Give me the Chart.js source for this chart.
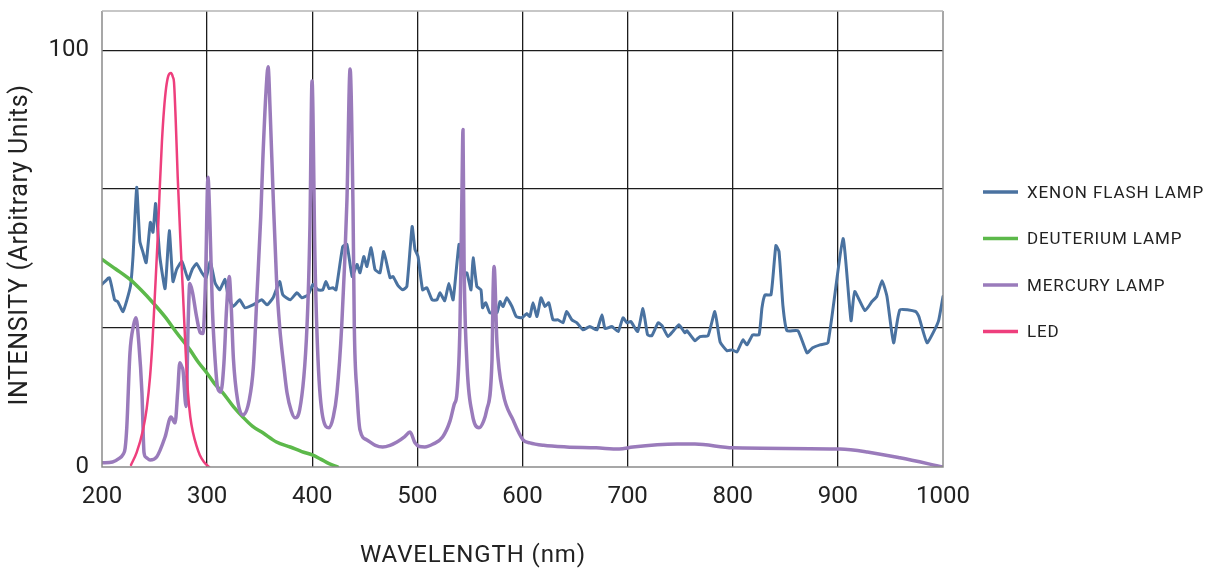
<!DOCTYPE html>
<html>
<head>
<meta charset="utf-8">
<script src="https://cdn.jsdelivr.net/npm/chart.js@4.4.1/dist/chart.umd.min.js"></script>
<style>
  html, body { margin: 0; padding: 0; background: #fff; }
  #wrap { position: relative; width: 1207px; height: 569px; }
</style>
</head>
<body>
<div id="wrap"><canvas id="chart" width="1207" height="569"></canvas></div>
<script>
// wavelength (nm) / intensity pairs
const seriesNames = ["XENON FLASH LAMP", "DEUTERIUM LAMP", "MERCURY LAMP", "LED"];
const seriesColors = ["#4a72a0", "#5cb94a", "#9a7bbb", "#ee3f7d"];

const xenonNm = [200,207,212,215,220,227,229.5,233,236,239,242,246,248.5,251,255,260,264,267.5,271,276,282,286,290,295,299,303,307.5,312,317,320,324.6,331,336,343.6,352,357,362.7,369,372,379,385.5,390,396,400.7,405.5,410,413,416,419.7,422.6,429,433,438,442.6,445.4,449,452,456,459.7,464.4,468,474,476.8,481.6,486,490,495,497.7,500.6,505,509,514,518.6,521.5,526,530,534,539.6,543,547,551,553,556.6,560.5,562,565,569,575.7,578.6,581.5,585,590,594,599.5,604,607,610,613.8,617.6,621.4,625,629,633.8,638.5,642,647,651.8,657.5,664,670.8,675.6,678.5,685,691,695.6,699.4,703,709.6,714.6,719,723,729,732.7,738.4,743,748.8,754.5,756.4,764,768.8,776.5,783,788,794.5,799.3,804,809.7,813.5,819,825,827.8,830.7,836.4,841,844,847.8,851.6,862,870.6,876,883,890.6,904.9,912.5,916,925.8,932.4,937,942,946.7,953,959,974,977,984.8,992,996,1000];
const xenonVal = [43.8,45.4,40.1,39.7,37.3,43.3,50.5,67.1,54.1,51.5,49,58.7,56.3,63.2,50.5,42.8,56.7,44.5,47.4,49.3,45,47.5,48.8,46.6,45.4,49.3,44.2,42.5,45,40.9,38.5,40.1,38.2,38.9,40.1,38.9,40.6,44.5,41.3,40.1,41.8,40.6,41.3,43.8,42.5,42.5,44.5,42.8,43,42.5,52.9,53.4,45.7,48.6,46.6,50.5,48.1,52.6,47.4,46.6,51.7,45.4,45.7,43.5,42.5,43.3,57.7,52.2,50.5,42.5,43,40.1,40.1,41.8,39.9,44,40.1,53.4,46.6,46.6,42.5,50.2,43.3,42.5,38.2,39.4,37,37,39.7,38.5,40.6,38.5,36.1,35.8,36.8,36.1,39.4,36.1,40.6,38.5,39.4,35.3,35.3,34.6,37.3,35.3,34.6,32.9,33.7,32.9,36.5,33.2,33.7,32.5,35.8,34.6,34.9,32.5,38,31.7,31.5,34.6,33.9,31.3,32.5,34.1,32.2,32.7,30.3,31.3,31.5,37.3,30,27.9,28.1,27.6,30.5,29.3,31.7,31.7,38.2,41.3,41.3,53.1,51.7,38.5,32.7,32.7,27.4,28.6,29.3,29.8,54.8,35.1,42.1,37.5,39.7,40.9,44.7,40.9,29.8,37.7,37.3,36.1,29.8,32.9,35.3,40.9];

const deuteriumNm = [200,213,226.6,237,248.5,260,271,283.7,292,299.6,307,315,325,334,343,353,366,379,390,400,408,416,424];
const deuteriumVal = [49.8,47.5,45,42.5,39.4,36,32.2,28.1,25,22.6,20,17.8,14.5,12,9.8,8.2,6,4.8,3.7,2.9,1.9,0.8,0];

const mercuryNm = [200,210,216,220,222,223.6,226.6,230,232.3,235,238,240,242,245.7,252,260,265.6,269.5,272,274,276,277,280,282,283.5,286,290,293.5,296,298.5,300.8,302.5,305,307,310,313,316,318.5,321,323,325,329,334,340,344,347.5,351,353,356,358,360,362.7,366,369,373,376,380,383.6,388,395,397.8,399.8,402.6,405.5,410,416,420,423.5,428,433,436,438.8,440,442.6,445.4,452,460,467,474,480.6,488,493,497.7,502,507,515,524,531,535,537.7,540.5,542.4,543.4,544.4,547,552,558.6,563,566,571,572,573,575.7,581.5,591,600.5,607,620,642,670,692,705,747,764,800,902,928,959,1000];
const mercuryVal = [1,1.2,2,3,4.5,9.6,27.4,34,35.8,29.8,17.8,3.4,2.3,1.7,2.4,7.2,12,10.6,18,25,24,23.3,14.5,35,44,42,36,32.2,32,45,69.5,60,38,28,19,18,25,38,45.7,38,26,16,12.5,16,24,41.8,60,73.8,90,96,85,65.9,45,33.7,24,17.8,13.5,11.8,13.7,33.7,57.7,92.6,49.8,25.7,12,9.4,12,17.8,33.7,64,95.5,61.8,33.7,17.8,8.9,6.5,5.2,4.8,5.2,6,7.3,8.4,5.8,4.9,4.8,5.5,7.2,11,15,17.8,33.7,65.9,81,49.8,25.7,13,9.4,11,13.7,25.7,41.8,48.1,29.8,17.8,11.3,6.5,5.8,5.2,4.8,4.6,4.3,4.8,5.5,5.5,4.6,4.3,3.6,2.2,0];

const ledNm = [227.6,233,239,242.5,245.7,248,250.4,253,255,257,259,261,263,265.6,267.5,268.5,270,272,274.5,277,279.5,281.8,284,286.6,290,293,297,301.8];
const ledVal = [0.5,3.5,8.9,14,21.6,30,41.8,55,67.3,78,85.8,91,93.8,94.5,93.5,92.3,84,69.7,55,41.8,28,17.8,12,8.2,5,2.9,1.2,0];

const xTicks = [200,300,400,500,600,700,800,900,1000];
const yGridValues = [0, 100/3, 200/3, 100];
const yLabelValues = [0, 100];

function pts(nm, val) {
  return nm.map((x, i) => ({ x: x, y: val[i] }));
}

const fontFamily = "Roboto, 'DejaVu Sans', sans-serif";
const gridDark = "#1c1c1c";

const overlay = {
  id: "overlay",
  afterDatasetsDraw(chart) {
    const ctx = chart.ctx;
    const a = chart.chartArea;
    ctx.save();
    ctx.lineWidth = 1.5;
    ctx.strokeStyle = "#8a8a8a";
    ctx.beginPath();
    ctx.moveTo(a.left, a.top);
    ctx.lineTo(a.left, a.bottom);
    ctx.lineTo(a.right, a.bottom);
    ctx.lineTo(a.right, a.top);
    ctx.stroke();
    ctx.strokeStyle = "#b4b4b4";
    ctx.beginPath();
    ctx.moveTo(a.left, a.top);
    ctx.lineTo(a.right, a.top);
    ctx.stroke();
    ctx.restore();
  },
  afterDraw(chart) {
    const ctx = chart.ctx;
    ctx.save();
    // legend
    ctx.font = "17px " + fontFamily;
    ctx.textBaseline = "middle";
    ctx.fillStyle = "#222";
    ctx.letterSpacing = "0.9px";
    seriesNames.forEach((name, i) => {
      const y = 192 + i * 46.5;
      ctx.strokeStyle = seriesColors[i];
      ctx.lineWidth = 3.5;
      ctx.beginPath();
      ctx.moveTo(983, y);
      ctx.lineTo(1018, y);
      ctx.stroke();
      ctx.fillText(name, 1027, y + 1.5);
    });
    // axis titles
    ctx.fillStyle = "#222";
    ctx.font = "24px " + fontFamily;
    ctx.letterSpacing = "0.9px";
    ctx.textAlign = "center";
    ctx.fillText("WAVELENGTH (nm)", 473, 556);
    ctx.translate(21, 245);
    ctx.rotate(-Math.PI / 2);
    ctx.font = "25px " + fontFamily;
    ctx.letterSpacing = "0.6px";
    ctx.fillText("INTENSITY (Arbitrary Units)", 0, 0);
    ctx.restore();
  }
};

const ctx = document.getElementById("chart").getContext("2d");
window.spectrumChart = new Chart(ctx, {
  type: "line",
  data: {
    datasets: [
      { label: seriesNames[0], data: pts(xenonNm, xenonVal), borderColor: seriesColors[0], borderWidth: 3, tension: 0.15, order: 3 },
      { label: seriesNames[1], data: pts(deuteriumNm, deuteriumVal), borderColor: seriesColors[1], borderWidth: 3.5, cubicInterpolationMode: "monotone", order: 2 },
      { label: seriesNames[2], data: pts(mercuryNm, mercuryVal), borderColor: seriesColors[2], borderWidth: 3.5, cubicInterpolationMode: "monotone", order: 1 },
      { label: seriesNames[3], data: pts(ledNm, ledVal), borderColor: seriesColors[3], borderWidth: 2.5, cubicInterpolationMode: "monotone", order: 0 }
    ]
  },
  options: {
    responsive: false,
    animation: false,
    devicePixelRatio: 1,
    layout: { padding: { top: 11, right: 264, left: 0, bottom: 0 } },
    elements: { point: { radius: 0 }, line: { borderJoinStyle: "round", borderCapStyle: "round" } },
    plugins: { legend: { display: false }, tooltip: { enabled: false } },
    scales: {
      x: {
        type: "linear",
        min: 200,
        max: 1000,
        afterFit(scale) {
          scale.height = 102;
          scale.paddingLeft = 0;
          scale.paddingRight = 0;
        },
        afterBuildTicks(scale) { scale.ticks = xTicks.map(v => ({ value: v })); },
        border: { display: false },
        grid: {
          drawTicks: false,
          lineWidth: 1.3,
          color: c => (c.tick && (c.tick.value === 200 || c.tick.value === 1000)) ? "rgba(0,0,0,0)" : gridDark
        },
        ticks: {
          padding: 16,
          maxRotation: 0,
          color: "#222",
          font: { family: fontFamily, size: 24 },
          callback: v => String(v)
        }
      },
      y: {
        type: "linear",
        min: 0,
        max: 109.4,
        afterFit(scale) {
          scale.width = 102;
          scale.paddingTop = 0;
          scale.paddingBottom = 0;
        },
        afterBuildTicks(scale) { scale.ticks = yGridValues.map(v => ({ value: v })); },
        border: { display: false },
        grid: {
          drawTicks: false,
          lineWidth: 1.3,
          color: c => (c.tick && c.tick.value === 0) ? "rgba(0,0,0,0)" : gridDark
        },
        ticks: {
          padding: 13,
          color: "#222",
          font: { family: fontFamily, size: 24 },
          callback: v => yLabelValues.some(l => Math.abs(l - v) < 0.01) ? String(Math.round(v)) : ""
        }
      }
    }
  },
  plugins: [overlay]
});
</script>
</body>
</html>
